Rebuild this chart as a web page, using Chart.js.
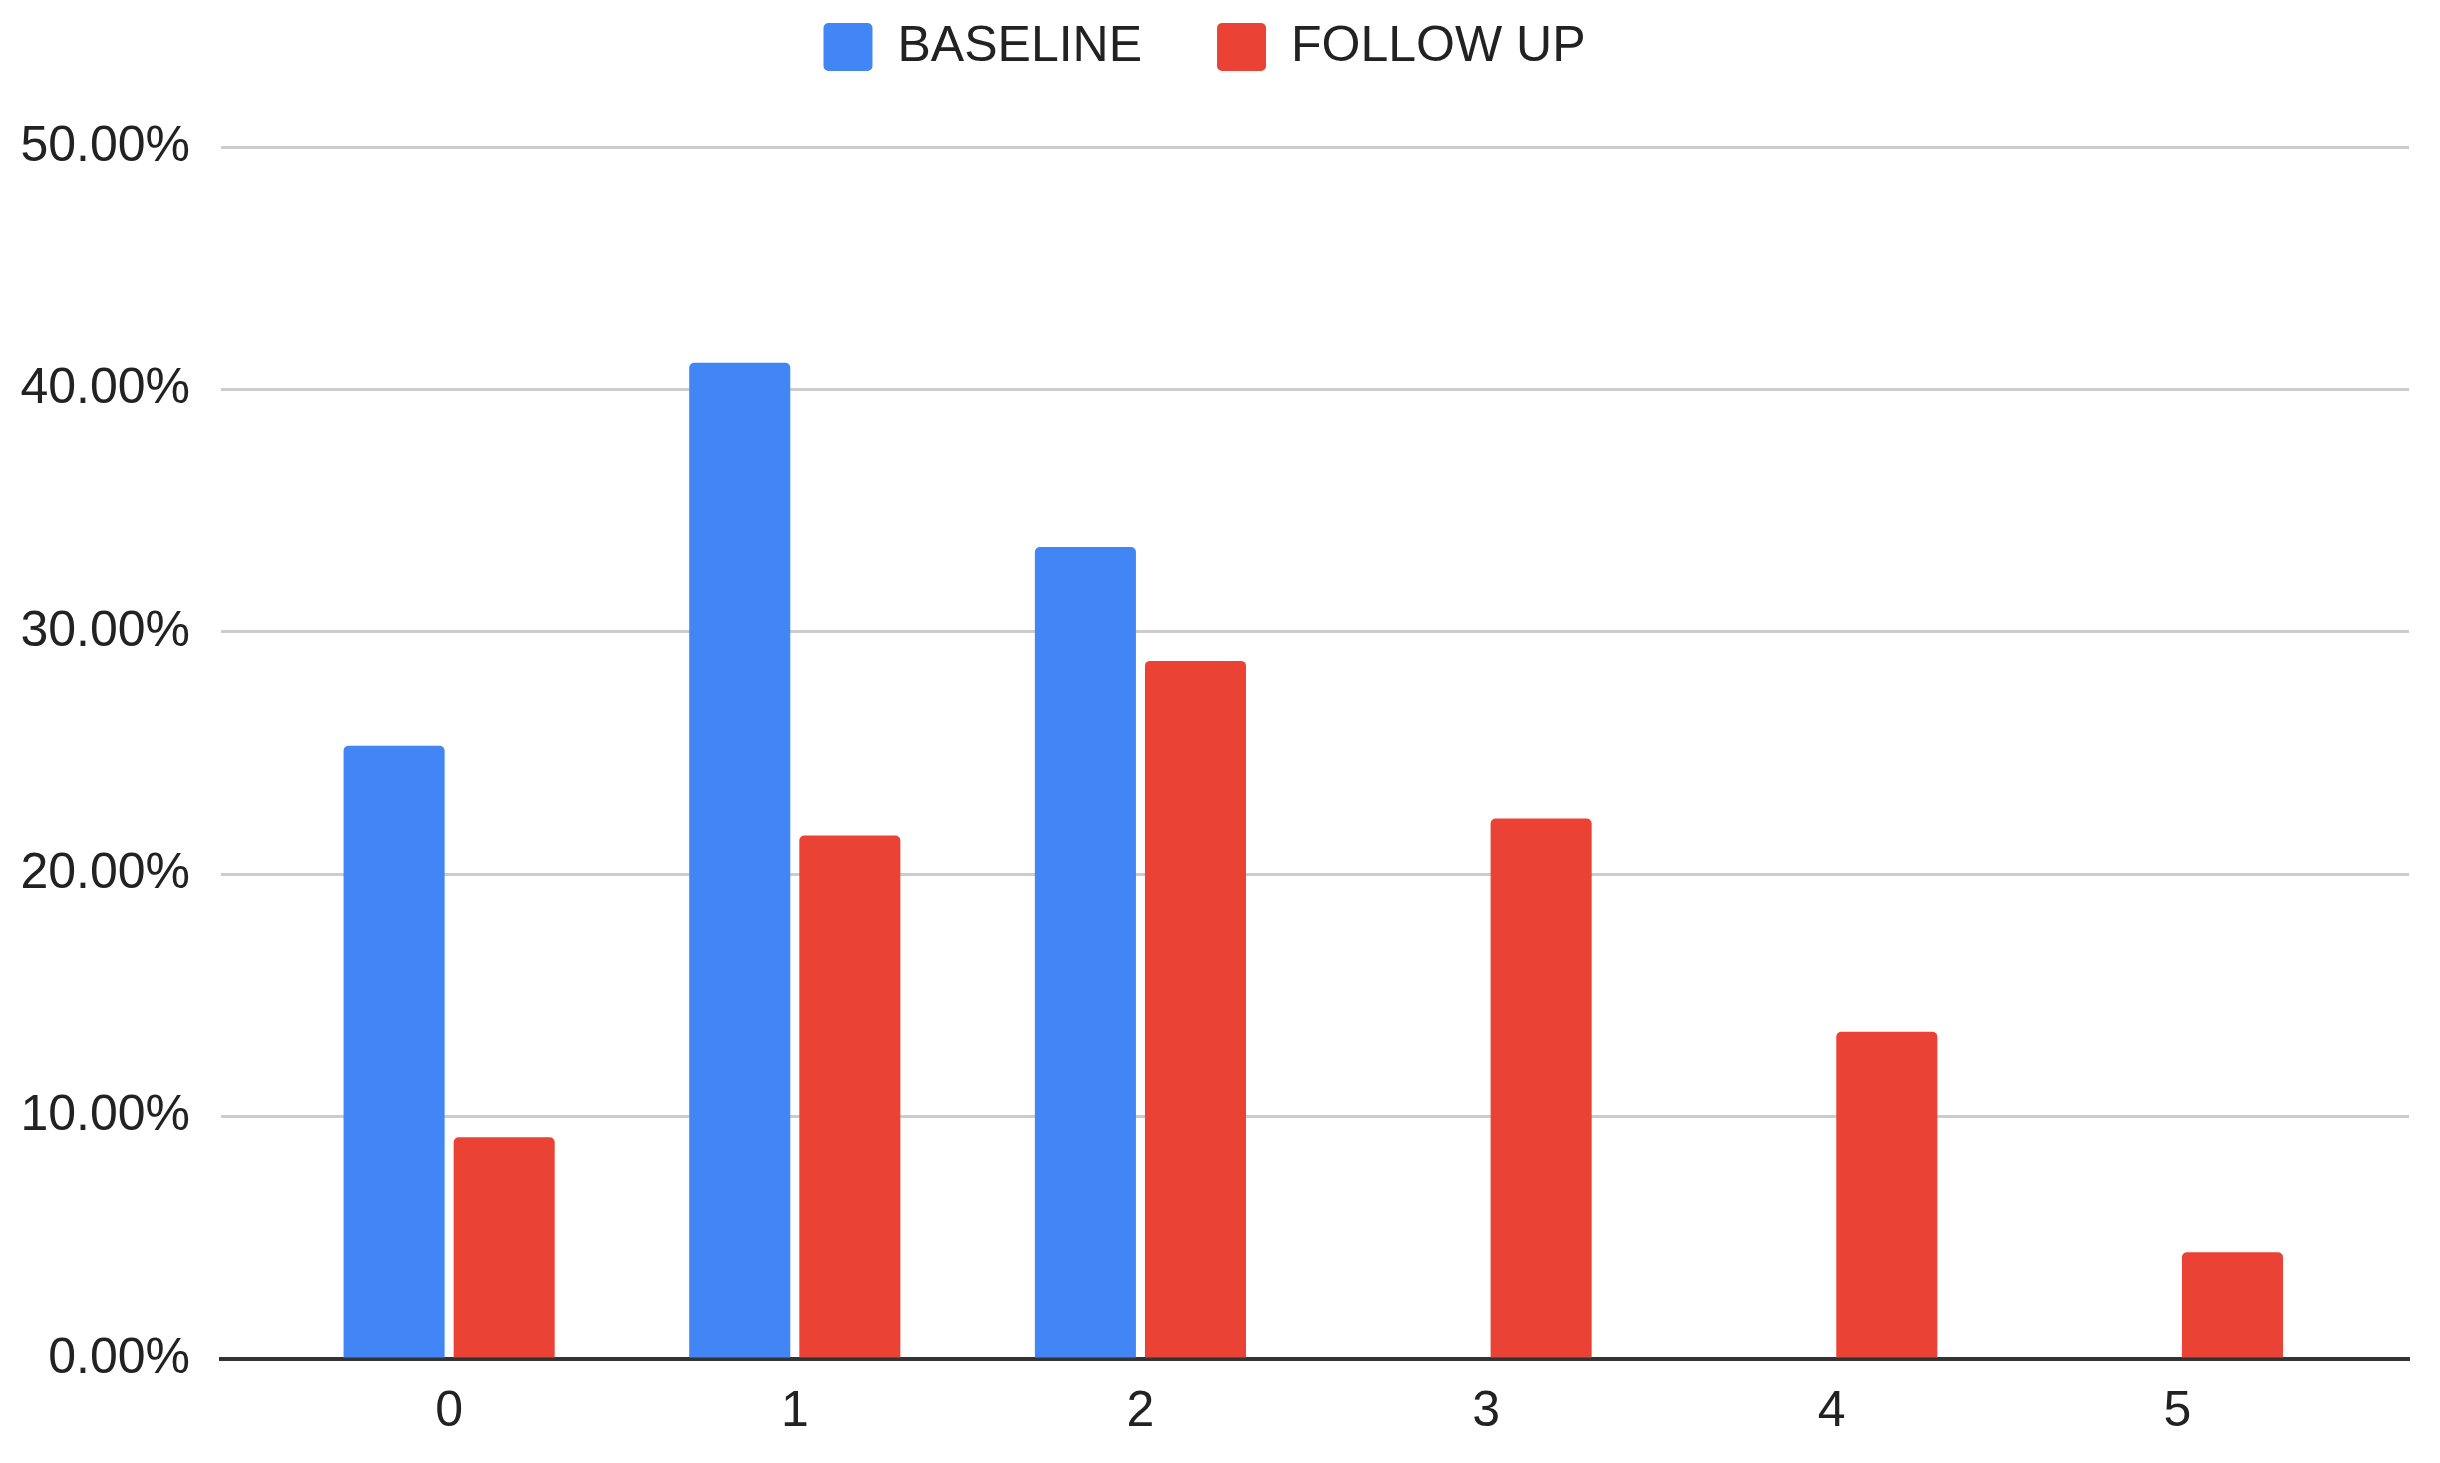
<!DOCTYPE html>
<html>
<head>
<meta charset="utf-8">
<script src="https://cdn.jsdelivr.net/npm/chart.js@4"></script>
<style>
  html, body { margin: 0; padding: 0; background: #fff; }
  #wrap { width: 2440px; height: 1463px; }
</style>
</head>
<body>
<div id="wrap"><canvas id="barChart" width="2440" height="1463"></canvas></div>
<script>
const categories = ["0", "1", "2", "3", "4", "5"];
const baseline = [25.3, 41.1, 33.5, 0, 0, 0];
const followUp = [9.15, 21.6, 28.8, 22.3, 13.5, 4.4];
const yTicks = [0, 10, 20, 30, 40, 50];

const toPoints = (arr) => arr.map((v, i) => ({ x: i, y: v }));

// leave some room between the legend and the plot
const legendGap = {
  id: "legendGap",
  beforeInit(chart) {
    const fit = chart.legend.fit;
    chart.legend.fit = function () {
      fit.call(this);
      this.height += 65;
    };
  },
};

const ctx = document.getElementById("barChart").getContext("2d");
const barChart = new Chart(ctx, {
  type: "bar",
  data: {
    datasets: [
      {
        label: "BASELINE",
        data: toPoints(baseline),
        backgroundColor: "#4285F4",
        borderRadius: { topLeft: 5, topRight: 5 },
        borderSkipped: "start",
      },
      {
        label: "FOLLOW UP",
        data: toPoints(followUp),
        backgroundColor: "#EA4335",
        borderRadius: { topLeft: 5, topRight: 5 },
        borderSkipped: "start",
      },
    ],
  },
  plugins: [legendGap],
  options: {
    responsive: false,
    animation: false,
    categoryPercentage: 0.637,
    barPercentage: 0.918,
    layout: { padding: { top: -53, right: 31, bottom: 6, left: 0 } },
    plugins: {
      tooltip: { enabled: false },
      legend: {
        position: "top",
        labels: {
          font: { family: "Liberation Sans", size: 50 },
          color: "#222",
          boxWidth: 49,
          boxHeight: 48,
          padding: 75,
          useBorderRadius: true,
          borderRadius: 5,
        },
      },
    },
    scales: {
      x: {
        type: "linear",
        min: -0.66,
        max: 5.67,
        offset: false,
        afterBuildTicks: (axis) => {
          axis.ticks = categories.map((c, i) => ({ value: i }));
        },
        grid: { display: false, offset: false },
        border: { display: true, color: "#333", width: 4 },
        ticks: {
          autoSkip: false,
          maxRotation: 0,
          padding: 15,
          color: "#222",
          font: { family: "Liberation Sans", size: 50 },
          callback: (v) => categories[v],
        },
      },
      y: {
        min: 0,
        max: 50,
        afterBuildTicks: (axis) => {
          axis.ticks = yTicks.map((v) => ({ value: v }));
        },
        afterFit: (scale) => {
          scale.width = 221;
        },
        grid: { color: "#cccccc", lineWidth: 3, drawTicks: false },
        border: { display: false },
        ticks: {
          padding: 31,
          color: "#222",
          font: { family: "Liberation Sans", size: 50 },
          callback: (v) => v.toFixed(2) + "%",
        },
      },
    },
  },
});
</script>
</body>
</html>
